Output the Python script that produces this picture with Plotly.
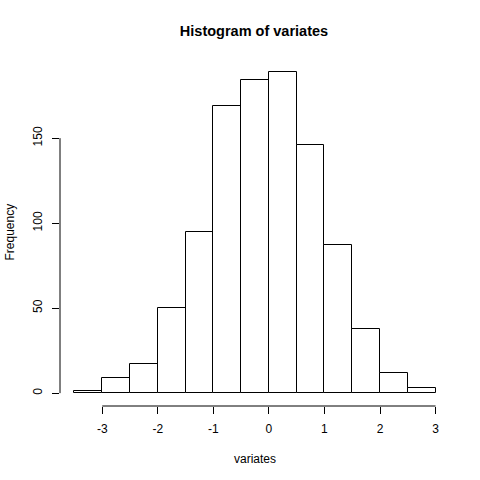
import plotly.graph_objects as go

bin_edges = [-3.5, -3.0, -2.5, -2.0, -1.5, -1.0, -0.5, 0.0, 0.5, 1.0, 1.5, 2.0, 2.5, 3.0]
counts = [1, 9, 17, 50, 95, 169, 184, 189, 146, 87, 38, 12, 3]
x_ticks = [-3, -2, -1, 0, 1, 2, 3]
y_ticks = [0, 50, 100, 150]

centers = [(a + b) / 2 for a, b in zip(bin_edges[:-1], bin_edges[1:])]
widths = [b - a for a, b in zip(bin_edges[:-1], bin_edges[1:])]

xr = bin_edges[-1] - bin_edges[0]
xlim = [bin_edges[0] - 0.04 * xr, bin_edges[-1] + 0.04 * xr]
yr = max(counts)
ylim = [-0.04 * yr, yr * 1.04]

fig = go.Figure(go.Bar(
    x=centers, y=counts, width=widths,
    marker=dict(color="white", line=dict(color="black", width=1)),
    hoverinfo="skip",
))

font = "Liberation Sans, Arial, sans-serif"
W = H = 480
fig.update_layout(
    width=W, height=H,
    margin=dict(l=60, r=30, t=59, b=74),
    paper_bgcolor="white", plot_bgcolor="white",
    font=dict(family=font, size=12, color="black"),
    showlegend=False,
    title=dict(text="<b>Histogram of variates</b>", x=254 / W, xanchor="center",
               y=1 - 31 / H, yanchor="middle", font=dict(size=14.5, family=font)),
    bargap=0,
)
fig.update_xaxes(range=xlim, tickvals=x_ticks, ticktext=[str(t) for t in x_ticks],
                 ticks="outside", ticklen=7, tickcolor="black", tickwidth=1,
                 showgrid=False, zeroline=False, showline=False, automargin=False,
                 ticklabelstandoff=5, tickfont=dict(size=12))
fig.update_yaxes(range=ylim, tickvals=y_ticks, ticktext=[str(t) for t in y_ticks],
                 ticks="outside", ticklen=7, tickcolor="black", tickwidth=1,
                 showgrid=False, zeroline=False, showline=False, tickangle=-90,
                 automargin=False, ticklabelstandoff=5, tickfont=dict(size=12))
# axis lines spanning the tick range (R style)
fig.add_shape(type="line", xref="x", yref="paper", x0=x_ticks[0], x1=x_ticks[-1],
              y0=0, y1=0, line=dict(color="black", width=1))
fig.add_shape(type="line", xref="paper", yref="y", x0=0, x1=0,
              y0=y_ticks[0], y1=y_ticks[-1], line=dict(color="black", width=1))
fig.add_annotation(text="variates", xref="paper", yref="paper", x=0.5, y=0,
                   yshift=-53, showarrow=False, font=dict(size=12), yanchor="middle")
fig.add_annotation(text="Frequency", xref="paper", yref="paper", x=0, y=0.5,
                   xshift=-51, textangle=-90, showarrow=False, font=dict(size=12),
                   xanchor="center")
fig.write_html("out.html", config={"displayModeBar": False},
               post_script="document.body.style.margin='0';document.body.style.padding='0';")
